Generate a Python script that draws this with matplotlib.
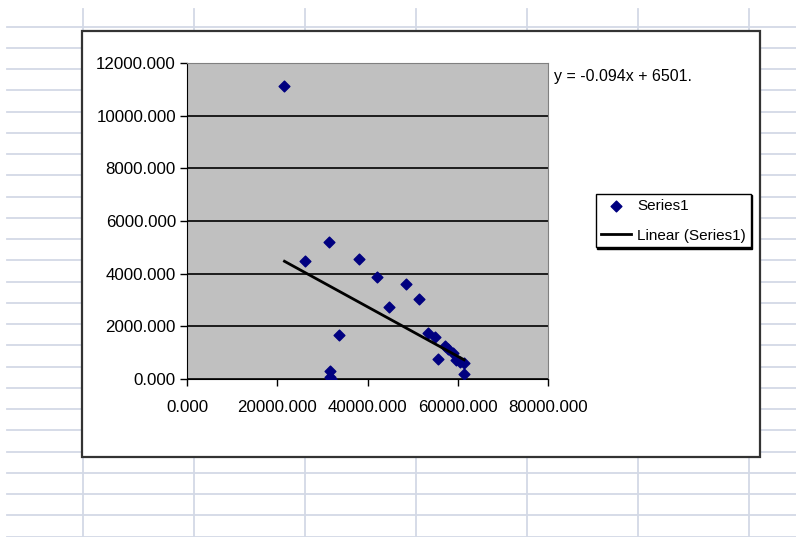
import numpy as np
import matplotlib as mpl
import matplotlib.pyplot as plt
from matplotlib.patches import Rectangle
from matplotlib.ticker import FuncFormatter, MultipleLocator

mpl.rcParams['font.family'] = ['Liberation Sans', 'DejaVu Sans']

# Scatter data (Series1)
x_vals = [21600, 26200, 31500, 38100, 42000, 48600, 44800, 51400, 33600,
          31700, 31900, 31800, 53300, 55000, 55700, 57100, 57900, 58900,
          59600, 60500, 61300, 61400]
y_vals = [11130, 4480, 5210, 4560, 3860, 3610, 2750, 3040, 1670,
          320, 0, 60, 1760, 1610, 750, 1270, 1130, 980,
          720, 660, 590, 180]

# Linear trendline as reported
slope = -0.094
intercept = 6501
eq_label = "y = -0.094x + 6501."

W, H = 796, 537
fig = plt.figure(figsize=(W / 100, H / 100), dpi=100)

# worksheet background with cell grid
bg = fig.add_axes([0, 0, 1, 1])
bg.set_xlim(0, W)
bg.set_ylim(H, 0)
bg.axis('off')
grid_c = '#d3d9e6'
for yy in np.arange(26.7, H, 21.25):
    bg.plot([7, W], [yy, yy], color=grid_c, lw=1.3, zorder=1)
for xx in np.arange(83, W, 111):
    bg.plot([xx, xx], [9, H], color=grid_c, lw=1.3, zorder=1)

# chart area
bg.add_patch(Rectangle((81.5, 31), 678.5, 425.5, facecolor='white',
                       edgecolor='#333333', lw=1.6, zorder=5))

# plot area
ax = fig.add_axes([187 / W, 1 - 379 / H, 361 / W, 316 / H])
ax.set_facecolor('#c0c0c0')
ax.set_xlim(0, 80000)
ax.set_ylim(0, 12000)
ax.xaxis.set_major_locator(MultipleLocator(20000))
ax.yaxis.set_major_locator(MultipleLocator(2000))
fmt = FuncFormatter(lambda v, p: f'{v:.3f}')
ax.xaxis.set_major_formatter(fmt)
ax.yaxis.set_major_formatter(fmt)
ax.tick_params(direction='out', length=5, width=1, color='black',
               labelsize=12.2, labelcolor='black')
ax.tick_params(axis='x', pad=10)
ax.tick_params(axis='y', pad=3)
ax.grid(axis='y', color='black', lw=1.2)
ax.set_axisbelow(True)
for s in ('left', 'bottom'):
    ax.spines[s].set_color('black')
for s in ('top', 'right'):
    ax.spines[s].set_color('#808080')

ax.scatter(x_vals, y_vals, marker='D', s=30, color='#000080', zorder=3,
           label='Series1')
xt = np.array([min(x_vals), max(x_vals)])
ax.plot(xt, slope * xt + intercept, color='black', lw=2, zorder=4,
        label='Linear (Series1)')

fig.text(554 / W, 1 - 76 / H, eq_label, fontsize=11.5, va='center', ha='left')

leg = fig.legend(loc='upper left', bbox_to_anchor=(596 / W, 1 - 194 / H),
                 borderaxespad=0, fontsize=11, frameon=True, fancybox=False,
                 edgecolor='black', borderpad=0.3, handlelength=2.0,
                 handletextpad=0.4, labelspacing=1.05,
                 shadow={'color': 'black', 'alpha': 1, 'ox': 1, 'oy': -1})
leg.get_frame().set_linewidth(1)

fig.savefig('out.png', dpi=100)
